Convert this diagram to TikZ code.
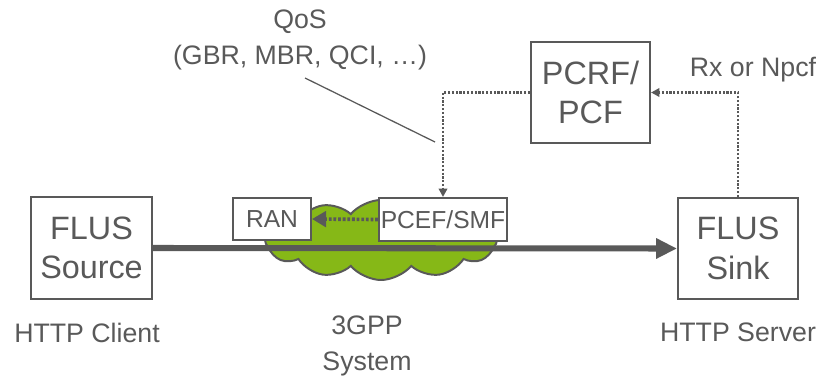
\documentclass[tikz,border=0pt]{standalone}
\usepackage{fontspec}
\setmainfont{Liberation Sans}
\usetikzlibrary{arrows.meta, positioning, shapes.symbols, calc}
\definecolor{textgray}{HTML}{595959}
\definecolor{linegray}{HTML}{595959}
\definecolor{cloudgreen}{HTML}{86B817}
\tikzset{
    bigbox/.style={
        draw=linegray,
        line width=1.4pt,
        fill=white,
        align=center,
        text=textgray,
        inner sep=0pt,
        font=\fontsize{23}{28}\selectfont
    },
    smallbox/.style={
        draw=linegray,
        line width=1.4pt,
        fill=white,
        align=center,
        text=textgray,
        inner sep=0pt,
        font=\fontsize{17.5}{21}\selectfont
    },
    label/.style={align=center, text=textgray, inner sep=0pt, font=\fontsize{19}{25}\selectfont},
    network/.style={
        cloud,
        cloud puffs=12,
        cloud puff arc=100,
        cloud ignores aspect,
        draw=linegray,
        line width=1.4pt,
        fill=cloudgreen,
        minimum width=5.8cm,
        minimum height=2.0cm
    },
    mediaflow/.style={line width=4.3pt, draw=linegray, -{Triangle[length=0.52cm, width=0.48cm]}},
    control/.style={line width=1.8pt, draw=linegray, dash pattern=on 1.6pt off 1.1pt, -{Triangle[length=6pt, width=6pt]}},
    bearer/.style={line width=2.6pt, draw=linegray, dash pattern=on 2pt off 1.3pt, -{Triangle[length=10pt, width=11pt]}},
    pointer/.style={line width=0.9pt, draw=linegray}
}
\begin{document}
\begin{tikzpicture}[x=0.025cm, y=-0.025cm]
\useasboundingbox (0,0) rectangle (819,381);

% network cloud
\node[network] (cloud) at (381,240) {};

% end points
\node[bigbox, minimum width=3.025cm, minimum height=2.55cm] (source) at (91.5,248) {FLUS\\Source};
\node[bigbox, minimum width=3.0cm, minimum height=2.525cm] (sink) at (738,248.5) {FLUS\\Sink};
\node[label] (client) at (87,333) {HTTP Client};
\node[label] (server) at (738,332) {HTTP Server};

% media path
\draw[mediaflow] (source.east) -- (sink.west);

% functions in the 3GPP system
\node[smallbox, minimum width=1.95cm, minimum height=1.05cm] (ran) at (272,219) {RAN};
\node[smallbox, minimum width=3.2cm, minimum height=1.075cm] (pcef) at (443,219.5) {PCEF/SMF};
\node[bigbox, minimum width=2.975cm, minimum height=2.525cm] (pcrf) at (590.5,92.5) {PCRF/\\PCF};

\draw[bearer] (pcef.west) -- (ran.east);
\draw[control] (pcrf.west) -| (pcef.north);
\draw[control] (sink.north) |- (pcrf.east);

% labels
\node[label] (rx) at (753,70) {Rx or Npcf};
\node[label] (qos) at (300,40) {QoS\\(GBR, MBR, QCI, …)};
\node[label] (system) at (367,346) {3GPP\\System};

\coordinate (qosfoot) at (305,78);
\coordinate (qostip) at (435,142);
\draw[pointer] (qosfoot) -- (qostip);
\end{tikzpicture}
\end{document}
